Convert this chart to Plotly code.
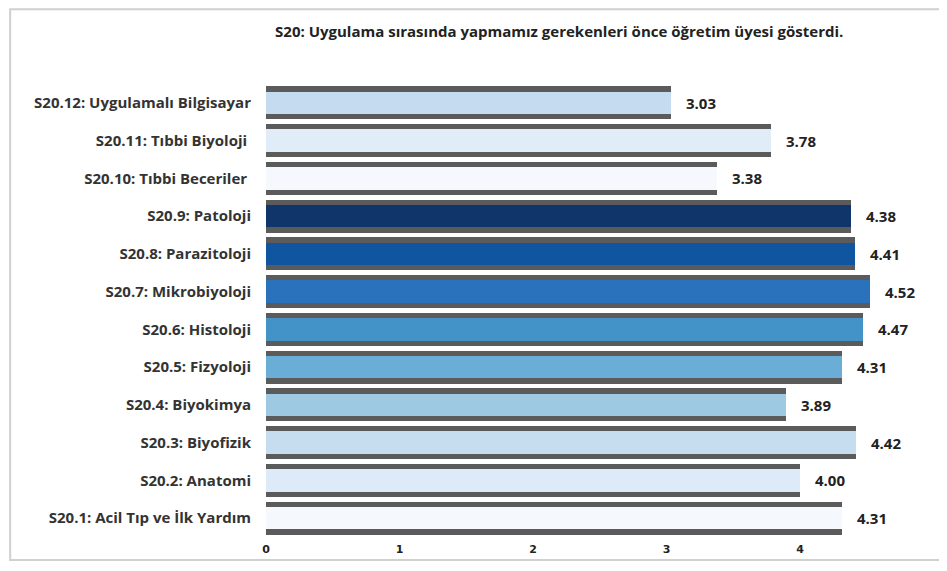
import plotly.graph_objects as go

# categories listed bottom -> top, as plotly draws them
categories = [
    "S20.1: Acil Tıp ve İlk Yardım",
    "S20.2: Anatomi",
    "S20.3: Biyofizik",
    "S20.4: Biyokimya",
    "S20.5: Fizyoloji",
    "S20.6: Histoloji",
    "S20.7: Mikrobiyoloji",
    "S20.8: Parazitoloji",
    "S20.9: Patoloji",
    "S20.10: Tıbbi Beceriler ",
    "S20.11: Tıbbi Biyoloji ",
    "S20.12: Uygulamalı Bilgisayar",
]
scores = [4.31, 4.00, 4.42, 3.89, 4.31, 4.47, 4.52, 4.41, 4.38, 3.38, 3.78, 3.03]
bar_colors = [
    "#f5f9fe", "#ddeaf7", "#c6dcef", "#9dcae2", "#6aaed8", "#4393c9",
    "#2a72bb", "#1055a0", "#0f356b", "#f5f9fe", "#e0ecf8", "#c5dcf0",
]
x_ticks = [0, 1, 2, 3, 4]

title = "S20: Uygulama sırasında yapmamız gerekenleri önce öğretim üyesi gösterdi."

fig = go.Figure()

# dark grey bar behind gives the top/bottom strips
fig.add_trace(go.Bar(
    y=categories, x=scores, orientation="h",
    marker=dict(color="#5b5b5b", line=dict(width=0)),
    width=0.88, hoverinfo="skip", showlegend=False,
))
fig.add_trace(go.Bar(
    y=categories, x=scores, orientation="h",
    marker=dict(color=bar_colors, line=dict(width=0)),
    width=0.6, showlegend=False,
))

for cat, val in zip(categories, scores):
    fig.add_annotation(
        x=val, y=cat, xref="x", yref="y", text=f"<b>{val:.2f}</b>",
        showarrow=False, xanchor="left", xshift=13,
        font=dict(family="Open Sans", size=15, color="#222222"),
    )

# outer frame around the whole chart
fig.add_shape(
    type="rect", xref="paper", yref="paper",
    x0=-0.412, x1=1.09, y0=-0.051, y1=1.165,
    line=dict(color="#d0d0d0", width=2), layer="below",
)

# page body has an 8px margin, so the figure is 8px smaller than the window
fig.update_layout(
    width=939, height=563,
    margin=dict(l=258, r=60, t=76, b=34),
    barmode="overlay", bargap=0,
    paper_bgcolor="white", plot_bgcolor="white",
    title=dict(
        text=f"<b>{title}</b>", x=0.587, xanchor="center", y=0.958, yanchor="middle",
        font=dict(family="Open Sans", size=15, color="#222222"),
    ),
    xaxis=dict(
        range=[0, 4.65], tickvals=x_ticks, ticktext=[f"<b>{t}</b>" for t in x_ticks],
        showgrid=False, zeroline=False, showline=False, ticks="",
        tickfont=dict(family="DejaVu Sans", size=11, color="#222222"),
        ticklabelstandoff=4, automargin=False,
    ),
    yaxis=dict(
        showgrid=False, zeroline=False, showline=False, ticks="",
        ticklabelstandoff=14, automargin=False,
        tickfont=dict(family="Open Sans", size=15, color="#333333"),
        tickprefix="<b>", ticksuffix="</b>",
    ),
)

fig.write_html("out.html")
